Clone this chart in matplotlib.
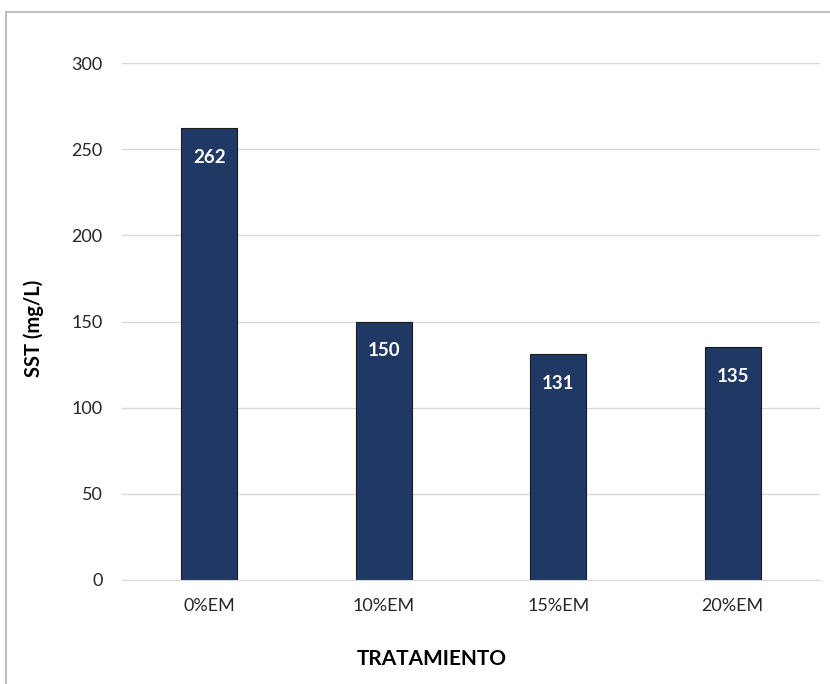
import matplotlib
matplotlib.use("Agg")
import matplotlib.pyplot as plt
from matplotlib.patches import Rectangle

categories = ["0%EM", "10%EM", "15%EM", "20%EM"]
sst_values = [262, 150, 131, 135]
y_ticks = [0, 50, 100, 150, 200, 250, 300]

W, H = 830, 684
fig = plt.figure(figsize=(W / 100, H / 100), dpi=100)
plt.rcParams["font.family"] = ["Lato", "DejaVu Sans"]

# chart frame (left and top edges visible)
fig.add_artist(Rectangle((6 / W, -0.1), 1.2, (H - 12) / H + 0.1, transform=fig.transFigure,
                         fill=False, edgecolor="#BFBFBF", linewidth=1.5))

left, right, top, bottom = 122, 820, 63, 580
ax = fig.add_axes([left / W, 1 - bottom / H, (right - left) / W, (bottom - top) / H])

x = range(len(categories))
ax.bar(x, sst_values, width=0.32, color="#203864", edgecolor="#1a1a1a", linewidth=0.8, zorder=3)

for xi, v in zip(x, sst_values):
    ax.annotate(str(v), (xi, v), xytext=(0, -21), textcoords="offset points",
                ha="center", va="center", color="white", fontsize=13.5, fontweight="bold", zorder=4)

ax.set_xlim(-0.5, len(categories) - 0.5)
ax.set_ylim(0, 300)
ax.set_yticks(y_ticks)
ax.set_xticks(list(x))
ax.set_xticklabels(categories)
ax.tick_params(axis="both", length=0, labelsize=13, colors="#262626")
ax.tick_params(axis="y", pad=14)
ax.tick_params(axis="x", pad=13)
ax.grid(axis="y", color="#D9D9D9", linewidth=1, zorder=0)
for s in ["top", "right", "left"]:
    ax.spines[s].set_visible(False)
ax.spines["bottom"].set_color("#D9D9D9")
ax.spines["bottom"].set_zorder(5)

ax.set_xlabel("TRATAMIENTO", fontsize=15, fontweight="bold")
ax.xaxis.set_label_coords((432 - left) / (right - left), -(649 - bottom) / (bottom - top))
ax.set_ylabel("SST (mg/L)", fontsize=14.5, fontweight="bold")
ax.yaxis.set_label_coords(-(left - 44) / (right - left), (bottom - 328) / (bottom - top))

fig.savefig("out.png", dpi=100)
